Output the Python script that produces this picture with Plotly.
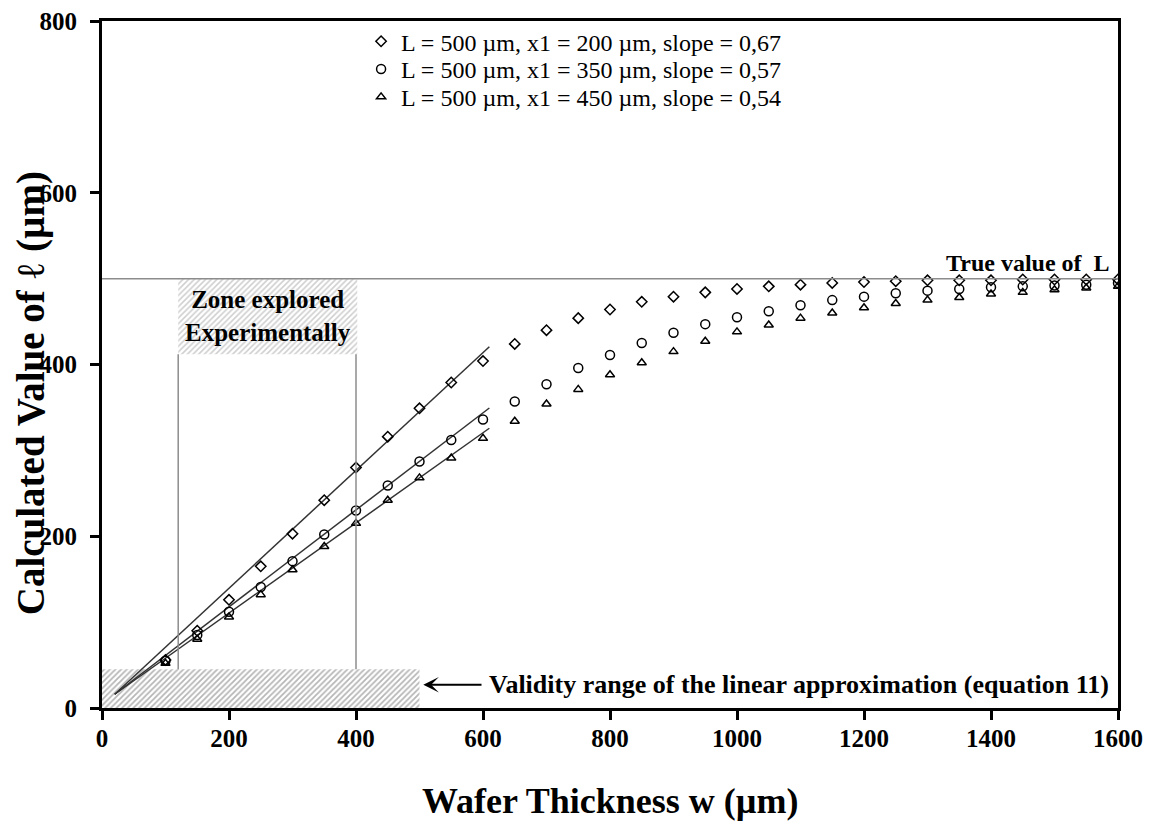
import plotly.graph_objects as go

# ---------------- data ----------------
w = [100, 150, 200, 250, 300, 350, 400, 450, 500, 550, 600, 650, 700, 750, 800, 850,
     900, 950, 1000, 1050, 1100, 1150, 1200, 1250, 1300, 1350, 1400, 1450, 1500, 1550, 1600]

l_x1_200 = [56, 90, 126, 165, 203, 242, 280, 316, 349, 379, 404, 424, 440, 454, 464, 473,
            479, 484, 488, 491, 493, 495, 496, 497, 498, 498, 498, 499, 499, 499, 499]
l_x1_350 = [55, 85, 112, 141, 171, 202, 230, 259, 287, 312, 336, 357, 377, 396, 411, 425,
            437, 447, 455, 462, 469, 475, 479, 483, 486, 488, 490, 491, 492, 493, 495]
l_x1_450 = [52, 80, 106, 132, 161, 188, 215, 242, 268, 291, 314, 334, 354, 371, 388, 402,
            415, 427, 438, 446, 454, 460, 466, 471, 475, 478, 482, 484, 487, 489, 491]

series_names = ["L = 500 \u00b5m, x1 = 200 \u00b5m, slope = 0,67",
                "L = 500 \u00b5m, x1 = 350 \u00b5m, slope = 0,57",
                "L = 500 \u00b5m, x1 = 450 \u00b5m, slope = 0,54"]
series_values = [l_x1_200, l_x1_350, l_x1_450]
series_symbols = ["diamond-open", "circle-open", "triangle-up-open"]
series_sizes = [8, 9, 8]

# linear fits
fit_slopes = [0.686, 0.565, 0.525]
fit_origin = (20, 16)
fit_end_x = 610

true_L = 500
validity_range = [0, 500]
validity_top = 45
zone_range = [120, 400]
zone_box_x = [120, 402]
zone_box_y = [412, 500]

x_ticks = [0, 200, 400, 600, 800, 1000, 1200, 1400, 1600]
y_ticks = [0, 200, 400, 600, 800]

FONT = "Liberation Serif"

fig = go.Figure()

# hatched validity region
vx0, vx1 = validity_range
fig.add_trace(go.Scatter(
    x=[vx0, vx1, vx1, vx0, vx0], y=[0, 0, validity_top, validity_top, 0],
    mode="lines", fill="toself", line=dict(width=0, color="rgba(0,0,0,0)"),
    fillcolor="white",
    fillpattern=dict(shape="/", size=4, solidity=0.45, fgcolor="#6e6e6e", bgcolor="white"),
    showlegend=False, hoverinfo="skip"))

# hatched zone label box
zx0, zx1 = zone_box_x
zy0, zy1 = zone_box_y
fig.add_trace(go.Scatter(
    x=[zx0, zx1, zx1, zx0, zx0], y=[zy0, zy0, zy1, zy1, zy0],
    mode="lines", fill="toself", line=dict(width=0, color="rgba(0,0,0,0)"),
    fillcolor="white",
    fillpattern=dict(shape="/", size=4, solidity=0.4, fgcolor="#a0a0a0", bgcolor="white"),
    showlegend=False, hoverinfo="skip"))

# fit lines
x0, y0 = fit_origin
for s in fit_slopes:
    xs = [x0, fit_end_x]
    ys = [y0 + s * (xx - x0) for xx in xs]
    fig.add_trace(go.Scatter(x=xs, y=ys, mode="lines",
                             line=dict(color="#333333", width=1.5),
                             showlegend=False, hoverinfo="skip"))

# data series, each with its own legend box for tight row spacing
legend_ids = ["legend", "legend2", "legend3"]
for name, vals, sym, sz, lg in zip(series_names, series_values, series_symbols,
                                   series_sizes, legend_ids):
    fig.add_trace(go.Scatter(
        x=w, y=vals, mode="markers", name=name, legend=lg,
        marker=dict(symbol=sym, size=sz, color="black", line=dict(width=1.5, color="black"))))

shapes = [
    dict(type="line", xref="x", yref="y", x0=0, x1=1600, y0=true_L, y1=true_L,
         line=dict(color="#8c8c8c", width=1.5)),
    dict(type="line", xref="x", yref="y", x0=zone_range[0], x1=zone_range[0],
         y0=validity_top, y1=zy0, line=dict(color="#8c8c8c", width=1.5)),
    dict(type="line", xref="x", yref="y", x0=zone_range[1], x1=zone_range[1],
         y0=validity_top, y1=zy0, line=dict(color="#8c8c8c", width=1.5)),
]

annotations = [
    dict(x=(zx0 + zx1) / 2, y=(zy0 + zy1) / 2, xref="x", yref="y",
         text="<b>Zone explored<br>Experimentally</b>", showarrow=False,
         font=dict(family=FONT, size=25, color="black")),
    dict(x=1590, y=518, xref="x", yref="y", xanchor="right", yanchor="middle",
         text="<b>True value of  L</b>", showarrow=False,
         font=dict(family=FONT, size=24, color="black")),
    dict(x=vx1 + 6, y=27, xref="x", yref="y", ax=600, ay=27, axref="x", ayref="y",
         text="", showarrow=True, arrowhead=3, arrowsize=1.3, arrowwidth=2, arrowcolor="black"),
    dict(x=606, y=27, xref="x", yref="y", xanchor="left", yanchor="middle",
         text="<b>Validity range of the linear approximation (equation 11)</b>",
         showarrow=False, font=dict(family=FONT, size=26, color="black")),
    dict(x=-0.070, y=0.458, xref="paper", yref="paper", xanchor="center", yanchor="middle",
         textangle=-90,
         text="<b>Calculated Value of </b>\u2113<b> (\u00b5m)</b>", showarrow=False,
         font=dict(family=FONT, size=39, color="black")),
    dict(x=0.5, y=-0.136, xref="paper", yref="paper", xanchor="center", yanchor="middle",
         text="<b>Wafer Thickness w (\u00b5m)</b>", showarrow=False,
         font=dict(family=FONT, size=36, color="black")),
]

legend_style = dict(x=0.255, xanchor="left", yanchor="middle", bgcolor="rgba(0,0,0,0)",
                    font=dict(family=FONT, size=24, color="black"), itemsizing="trace")
legend_rows_y = [0.970, 0.9295, 0.889]

# the page body has a margin, so the figure is drawn smaller to fit the window
fig.update_layout(
    width=1146, height=826,
    margin=dict(l=94, r=36, t=0, b=126),
    paper_bgcolor="white", plot_bgcolor="white",
    font=dict(family=FONT, color="black"),
    shapes=shapes, annotations=annotations,
    legend=dict(legend_style, y=legend_rows_y[0]),
    legend2=dict(legend_style, y=legend_rows_y[1]),
    legend3=dict(legend_style, y=legend_rows_y[2]),
    showlegend=True,
)
fig.update_xaxes(range=[0, 1600], tickvals=x_ticks, ticks="outside", ticklen=9, tickwidth=2.5,
                 tickcolor="black", showline=True, linecolor="black", linewidth=3, mirror=True,
                 showgrid=False, zeroline=False, ticklabeloverflow="allow",
                 tickfont=dict(family=FONT, size=25, color="black", weight="bold"),
                 ticklabelstandoff=-3)
fig.update_yaxes(range=[0, 800], tickvals=y_ticks, ticks="outside", ticklen=9, tickwidth=2.5,
                 tickcolor="black", showline=True, linecolor="black", linewidth=3, mirror=True,
                 showgrid=False, zeroline=False, ticklabeloverflow="allow",
                 tickfont=dict(family=FONT, size=25, color="black", weight="bold"),
                 ticklabelstandoff=8)

fig.write_html("out.html")
